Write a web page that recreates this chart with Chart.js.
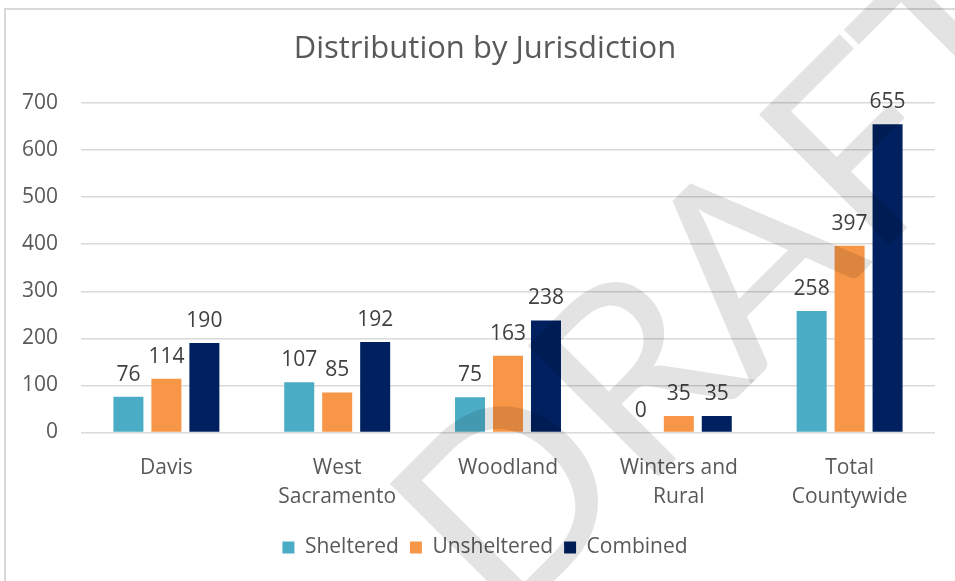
<!DOCTYPE html>
<html>
<head>
<meta charset="utf-8">
<script src="https://cdn.jsdelivr.net/npm/chart.js@4"></script>
<style>
  html, body { margin: 0; padding: 0; background: #fff; }
  #wrap { width: 955px; height: 581px; position: relative; }
</style>
</head>
<body>
<div id="wrap"><canvas id="myChart" width="955" height="581"></canvas></div>
<script>
var categories = [['Davis'], ['West', 'Sacramento'], ['Woodland'], ['Winters and', 'Rural'], ['Total', 'Countywide']];
var sheltered = [76, 107, 75, 0, 258];
var unsheltered = [114, 85, 163, 35, 397];
var combined = [190, 192, 238, 35, 655];
var yTicks = [0, 100, 200, 300, 400, 500, 600, 700];

var FONT = "'Open Sans', 'Liberation Sans', sans-serif";

// white page + light frame round the chart
var frame = {
    id: 'frame',
    beforeDraw: function (chart) {
        var c = chart.ctx;
        c.save();
        c.fillStyle = '#fff';
        c.fillRect(0, 0, chart.width, chart.height);
        c.strokeStyle = '#d9d9d9';
        c.lineWidth = 2;
        c.strokeRect(5, 9, 1000, 1000);
        c.restore();
    }
};

// value labels above each bar
var valueLabels = {
    id: 'valueLabels',
    afterDatasetsDraw: function (chart) {
        var c = chart.ctx;
        c.save();
        c.font = '21px ' + FONT;
        c.fillStyle = '#404040';
        c.textAlign = 'center';
        c.textBaseline = 'alphabetic';
        chart.data.datasets.forEach(function (ds, i) {
            chart.getDatasetMeta(i).data.forEach(function (bar, j) {
                c.fillText(ds.data[j], bar.x, bar.y - 16);
            });
        });
        c.restore();
    }
};

// DRAFT watermark on top
var watermark = {
    id: 'watermark',
    afterDraw: function (chart) {
        var c = chart.ctx;
        var letters = ['D', 'R', 'A', 'F', 'T'];
        var offs = [8, 186, 346, 505, 648];
        c.save();
        c.translate(567.5, 567.5);
        c.rotate(-Math.PI / 4);
        c.font = "258px Lato, 'Open Sans', sans-serif";
        c.fillStyle = 'rgba(0,0,0,0.11)';
        c.textAlign = 'center';
        c.textBaseline = 'alphabetic';
        letters.forEach(function (l, i) { c.fillText(l, offs[i], 0); });
        c.restore();
    }
};

var ctx = document.getElementById('myChart').getContext('2d');
var myChart = new Chart(ctx, {
    type: 'bar',
    data: {
        labels: categories,
        datasets: [{
            label: 'Sheltered',
            data: sheltered,
            backgroundColor: '#4bacc6'
        }, {
            label: 'Unsheltered',
            data: unsheltered,
            backgroundColor: '#f79646'
        }, {
            label: 'Combined',
            data: combined,
            backgroundColor: '#002060'
        }]
    },
    options: {
        responsive: false,
        animation: false,
        categoryPercentage: 0.667,
        barPercentage: 0.79,
        layout: {
            padding: { left: 15, right: 0, top: 0, bottom: 13 }
        },
        plugins: {
            title: {
                display: true,
                text: 'Distribution by Jurisdiction',
                color: '#595959',
                font: { family: FONT, size: 31, weight: 'normal' },
                padding: { top: 31, bottom: 34.8 }
            },
            legend: {
                position: 'bottom',
                labels: {
                    color: '#595959',
                    font: { family: FONT, size: 21 },
                    boxWidth: 12,
                    boxHeight: 12,
                    padding: 11
                }
            },
            tooltip: { enabled: false }
        },
        scales: {
            y: {
                min: 0,
                max: 700,
                afterBuildTicks: function (scale) {
                    scale.ticks = yTicks.map(function (v) { return { value: v }; });
                },
                afterFit: function (scale) { scale.width = 66; },
                grid: { color: '#d9d9d9', lineWidth: 1.5, drawTicks: false },
                border: { display: false },
                ticks: {
                    color: '#595959',
                    font: { family: FONT, size: 21 },
                    padding: 23
                }
            },
            // empty right axis, only keeps the right margin of the plot
            yRight: {
                position: 'right',
                afterFit: function (scale) { scale.width = 20; },
                grid: { display: false },
                border: { display: false },
                ticks: { display: false }
            },
            x: {
                afterFit: function (scale) { scale.height = 93.5; },
                grid: { display: false },
                border: { display: false },
                ticks: {
                    color: '#595959',
                    font: { family: FONT, size: 21, lineHeight: 1.38 },
                    padding: 13,
                    maxRotation: 0,
                    autoSkip: false
                }
            }
        }
    },
    plugins: [frame, valueLabels, watermark]
});
</script>
</body>
</html>
